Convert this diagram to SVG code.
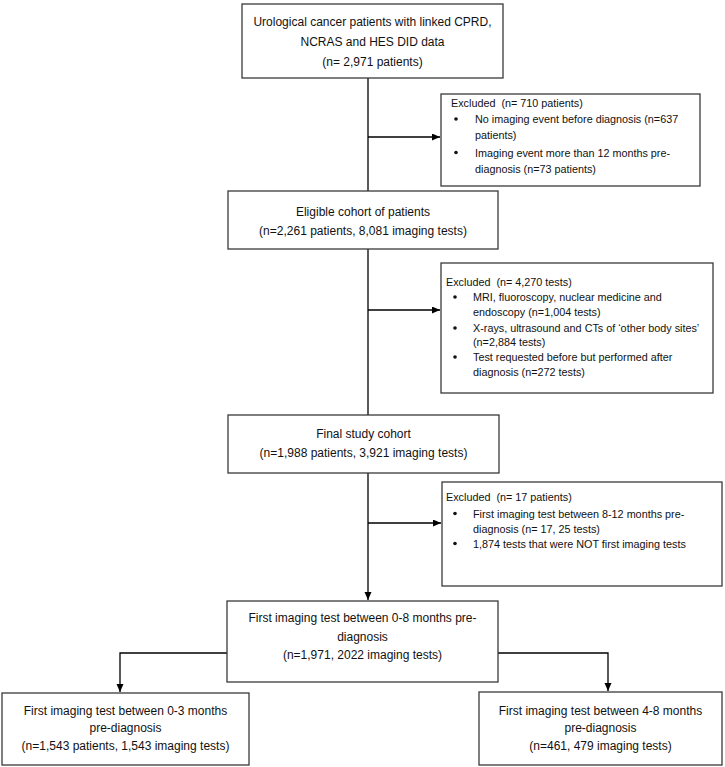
<svg xmlns="http://www.w3.org/2000/svg" width="725" height="767" viewBox="0 0 725 767">
<defs>
<style>
.box{fill:#fff;stroke:#3a3a3a;stroke-width:1.3}
.c{font-family:"Liberation Sans",Arial,sans-serif;font-size:12px;fill:#111;text-anchor:middle}
.l{font-family:"Liberation Sans",Arial,sans-serif;font-size:10.8px;fill:#111;white-space:pre}
.ln{fill:none;stroke:#000;stroke-width:1.3}
.bul{fill:#111}
</style>
<marker id="ah" markerUnits="userSpaceOnUse" markerWidth="9" markerHeight="8" refX="8" refY="3.5" orient="auto">
<path d="M0,0 L8,3.5 L0,7 z" fill="#000"/>
</marker>
</defs>
<rect width="725" height="767" fill="#fff"/>
<g id="connectors">
<path class="ln" d="M368,78 V191"/>
<path class="ln" d="M368,249 V415"/>
<path class="ln" d="M368,473 V600" marker-end="url(#ah)"/>
<path class="ln" d="M368,137 H440" marker-end="url(#ah)"/>
<path class="ln" d="M368,310 H440" marker-end="url(#ah)"/>
<path class="ln" d="M368,523 H441" marker-end="url(#ah)"/>
<path class="ln" d="M227,653 H120 V692" marker-end="url(#ah)"/>
<path class="ln" d="M498,653 H608 V691" marker-end="url(#ah)"/>
</g>
<g id="n1">
<rect class="box" x="242" y="4" width="261" height="74"/>
<text class="c" x="372.5" y="26">Urological cancer patients with linked CPRD,</text>
<text class="c" x="372.5" y="46">NCRAS and HES DID data</text>
<text class="c" x="372.5" y="66">(n= 2,971 patients)</text>
</g>
<g id="ex1">
<rect class="box" x="441" y="94" width="259" height="92"/>
<text class="l" x="451" y="107" xml:space="preserve">Excluded  (n= 710 patients)</text>
<circle class="bul" cx="456" cy="119" r="1.8"/>
<text class="l" x="475" y="123">No imaging event before diagnosis (n=637</text>
<text class="l" x="475" y="139">patients)</text>
<circle class="bul" cx="456" cy="152.5" r="1.8"/>
<text class="l" x="475" y="156.5">Imaging event more than 12 months pre-</text>
<text class="l" x="475" y="173">diagnosis (n=73 patients)</text>
</g>
<g id="n2">
<rect class="box" x="228" y="191" width="270" height="58"/>
<text class="c" x="363" y="216">Eligible cohort of patients</text>
<text class="c" x="363" y="235">(n=2,261 patients, 8,081 imaging tests)</text>
</g>
<g id="ex2">
<rect class="box" x="441" y="263" width="272" height="130"/>
<text class="l" x="446" y="286" xml:space="preserve">Excluded  (n= 4,270 tests)</text>
<circle class="bul" cx="455" cy="297" r="1.8"/>
<text class="l" x="473" y="301">MRI, fluoroscopy, nuclear medicine and</text>
<text class="l" x="473" y="316">endoscopy (n=1,004 tests)</text>
<circle class="bul" cx="455" cy="328" r="1.8"/>
<text class="l" x="473" y="332">X-rays, ultrasound and CTs of ‘other body sites’</text>
<text class="l" x="473" y="346">(n=2,884 tests)</text>
<circle class="bul" cx="455" cy="357" r="1.8"/>
<text class="l" x="473" y="361">Test requested before but performed after</text>
<text class="l" x="473" y="376">diagnosis (n=272 tests)</text>
</g>
<g id="n3">
<rect class="box" x="228" y="415" width="271" height="58"/>
<text class="c" x="363.5" y="438">Final study cohort</text>
<text class="c" x="363.5" y="457">(n=1,988 patients, 3,921 imaging tests)</text>
</g>
<g id="ex3">
<rect class="box" x="442" y="482" width="280" height="104"/>
<text class="l" x="446" y="501" xml:space="preserve">Excluded  (n= 17 patients)</text>
<circle class="bul" cx="455" cy="513.5" r="1.8"/>
<text class="l" x="473" y="517.5">First imaging test between 8-12 months pre-</text>
<text class="l" x="473" y="532.5">diagnosis (n= 17, 25 tests)</text>
<circle class="bul" cx="455" cy="543.5" r="1.8"/>
<text class="l" x="473" y="547.5">1,874 tests that were NOT first imaging tests</text>
</g>
<g id="n4">
<rect class="box" x="227" y="601" width="271" height="81"/>
<text class="c" x="362.5" y="622">First imaging test between 0-8 months pre-</text>
<text class="c" x="362.5" y="641">diagnosis</text>
<text class="c" x="362.5" y="659">(n=1,971, 2022 imaging tests)</text>
</g>
<g id="n5">
<rect class="box" x="2" y="693" width="247" height="72"/>
<text class="c" x="125.5" y="715">First imaging test between 0-3 months</text>
<text class="c" x="125.5" y="732">pre-diagnosis</text>
<text class="c" x="125.5" y="750">(n=1,543 patients, 1,543 imaging tests)</text>
</g>
<g id="n6">
<rect class="box" x="479" y="692" width="243" height="73"/>
<text class="c" x="600.5" y="715">First imaging test between 4-8 months</text>
<text class="c" x="600.5" y="732">pre-diagnosis</text>
<text class="c" x="600.5" y="750">(n=461, 479 imaging tests)</text>
</g>
</svg>
